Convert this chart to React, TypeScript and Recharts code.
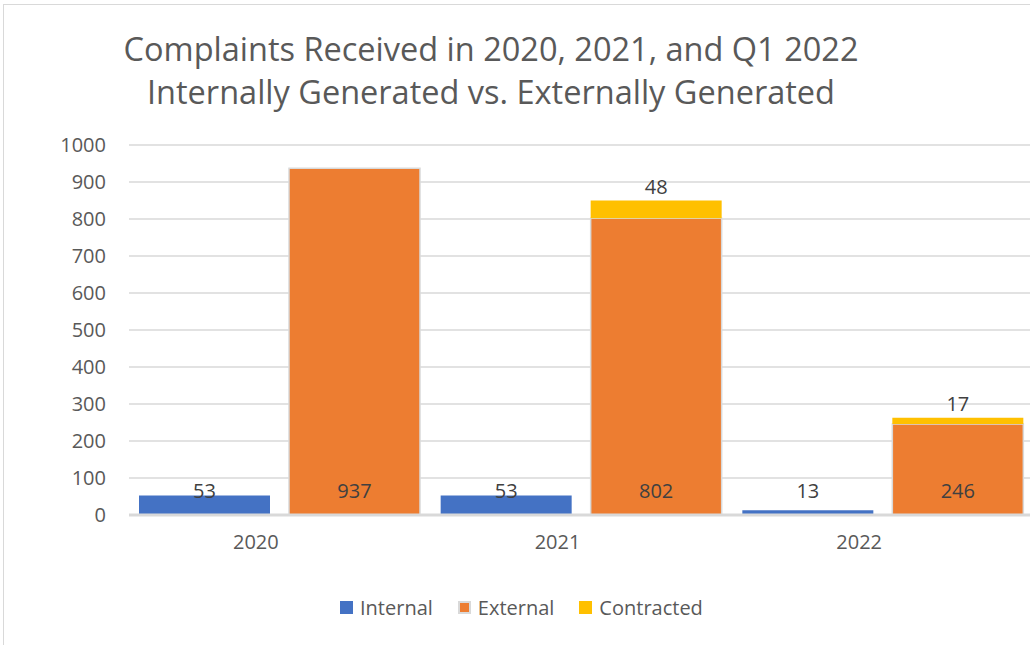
import {
  BarChart,
  Bar,
  XAxis,
  YAxis,
  CartesianGrid,
  Legend,
  LabelList,
} from "recharts";

const years = ["2020", "2021", "2022"];
const internal = [53, 53, 13];
const external = [937, 802, 246];
const contracted = [0, 48, 17];
const yTicks = [0, 100, 200, 300, 400, 500, 600, 700, 800, 900, 1000];

const data = years.map((year, i) => ({
  year,
  internal: internal[i],
  external: external[i],
  contracted: contracted[i],
}));

const FONT = "'Open Sans', 'Noto Sans', sans-serif";
const GRID = "#d9d9d9";

const legendItems = [
  { name: "Internal", color: "#4472C4", border: false },
  { name: "External", color: "#ED7D31", border: true },
  { name: "Contracted", color: "#FFC000", border: false },
];

const ChartLegend = () => (
  <div style={{ display: "flex", alignItems: "center", height: 24, fontFamily: FONT }}>
    {legendItems.map((item) => (
      <div key={item.name} style={{ display: "flex", alignItems: "center", marginRight: 25 }}>
        <span
          style={{
            width: 13,
            height: 13,
            background: item.color,
            boxSizing: "border-box",
            border: item.border ? `2px solid ${GRID}` : "none",
            marginRight: 7,
          }}
        />
        <span style={{ fontSize: 20, color: "#595959" }}>{item.name}</span>
      </div>
    ))}
  </div>
);

const YearTick = (props: any) => {
  const { x, y, payload } = props;
  return (
    <text x={x - 24} y={y} dy={14} textAnchor="middle" fill="#595959" fontSize={20} fontFamily={FONT}>
      {payload.value}
    </text>
  );
};

const hideZero = (v: any) => (v ? v : "");

export default function App() {
  return (
    <div
      style={{
        position: "absolute",
        left: 0,
        top: 0,
        width: 1030,
        height: 645,
        overflow: "hidden",
        background: "#fff",
      }}
    >
      <div
        style={{
          position: "absolute",
          left: 3,
          top: 4,
          width: 1100,
          height: 700,
          border: `1px solid ${GRID}`,
        }}
      />
      <div
        style={{
          position: "absolute",
          left: 0,
          top: 27,
          width: 982,
          textAlign: "center",
          fontFamily: FONT,
          fontSize: 32.5,
          lineHeight: "43px",
          color: "#595959",
        }}
      >
        Complaints Received in 2020, 2021, and Q1 2022
        <br />
        Internally Generated vs. Externally Generated
      </div>
      <div style={{ position: "absolute", left: 0, top: 0 }}>
        <BarChart
          width={1040}
          height={645}
          data={data}
          margin={{ top: 145, right: 6, bottom: 26, left: 0 }}
          barGap={19}
          barCategoryGap={10}
        >
          <CartesianGrid vertical={false} stroke={GRID} strokeWidth={1.3} />
          <XAxis
            dataKey="year"
            height={80}
            tickLine={false}
            tickSize={0}
            tickMargin={20}
            axisLine={{ stroke: GRID, strokeWidth: 3 }}
            tick={<YearTick />}
          />
          <YAxis
            width={129}
            domain={[0, 1000]}
            ticks={yTicks}
            interval={0}
            axisLine={false}
            tickLine={false}
            tickSize={0}
            tickMargin={23}
            tick={{ fill: "#595959", fontSize: 20, fontFamily: FONT }}
          />
          <Legend
            verticalAlign="bottom"
            content={<ChartLegend />}
            wrapperStyle={{ left: 340, width: 500 }}
          />
          <Bar dataKey="internal" name="Internal" stackId="int" fill="#4472C4" isAnimationActive={false}>
            <LabelList
              dataKey="internal"
              position="insideBottom"
              offset={17}
              fill="#404040"
              fontSize={20}
              fontFamily={FONT}
            />
          </Bar>
          <Bar
            dataKey="external"
            name="External"
            stackId="ext"
            fill="#ED7D31"
            stroke={GRID}
            strokeWidth={1.5}
            isAnimationActive={false}
          >
            <LabelList
              dataKey="external"
              position="insideBottom"
              offset={17}
              fill="#404040"
              fontSize={20}
              fontFamily={FONT}
            />
          </Bar>
          <Bar dataKey="contracted" name="Contracted" stackId="ext" fill="#FFC000" isAnimationActive={false}>
            <LabelList
              dataKey="contracted"
              position="top"
              offset={7}
              formatter={hideZero}
              fill="#404040"
              fontSize={20}
              fontFamily={FONT}
            />
          </Bar>
        </BarChart>
      </div>
    </div>
  );
}
